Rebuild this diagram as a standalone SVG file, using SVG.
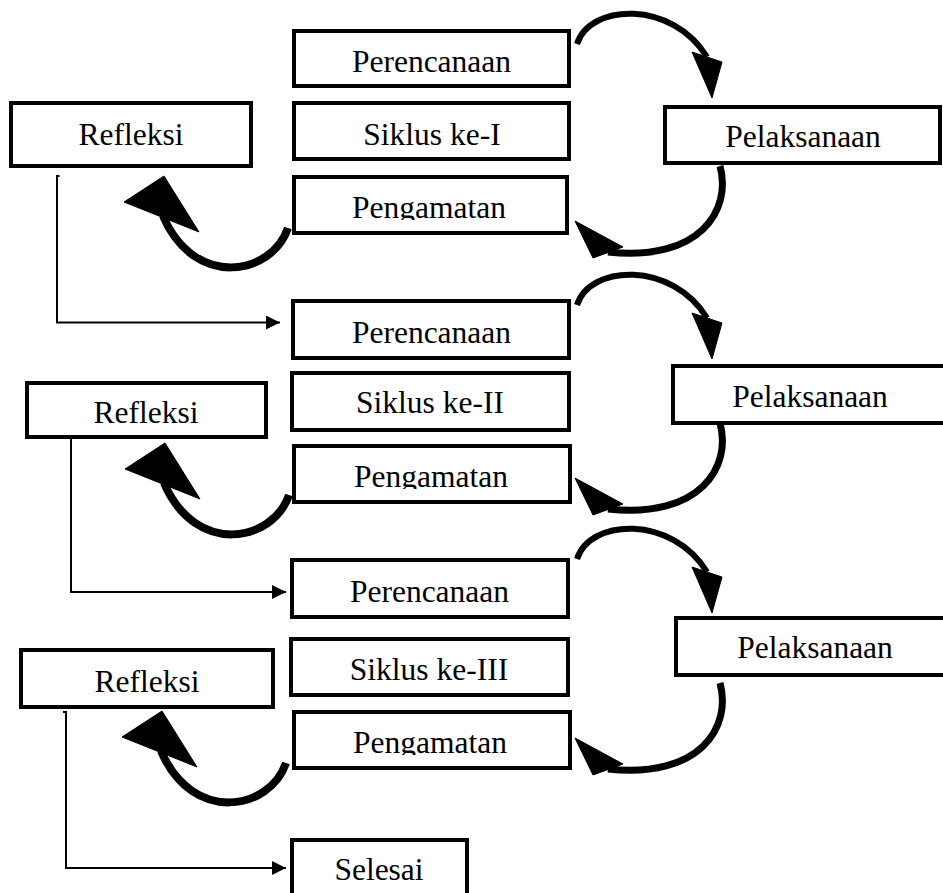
<svg xmlns="http://www.w3.org/2000/svg" width="943" height="893" viewBox="0 0 943 893">
<style>
.box{fill:#fff;stroke:#000;stroke-width:4}
.t{font-family:"Liberation Serif","Times New Roman",serif;font-size:31.5px;fill:#000;text-anchor:middle}
.line{fill:none;stroke:#000;stroke-width:2}
.arc{fill:none;stroke:#000;stroke-linecap:butt}
.head{fill:#000;stroke:#000;stroke-width:1;stroke-linejoin:round}
</style>
<defs>
<marker id="ah" markerUnits="userSpaceOnUse" markerWidth="14" markerHeight="14" refX="14" refY="7" orient="auto">
<path d="M0,0 L14,7 L0,14 z" fill="#000"/>
</marker>
<clipPath id="c1" clipPathUnits="userSpaceOnUse"><rect x="290" y="170" width="290" height="50"/></clipPath>
<clipPath id="c2" clipPathUnits="userSpaceOnUse"><rect x="290" y="440" width="290" height="49"/></clipPath>
<clipPath id="c3" clipPathUnits="userSpaceOnUse"><rect x="290" y="705" width="290" height="50"/></clipPath>
<g id="topArc">
<path class="arc" stroke-width="6" d="M577,44 C590,3 672,0 707,57"/>
<polygon class="head" points="692,52 722,62 712,98"/>
</g>
<g id="rightArc">
<path class="arc" stroke-width="7" d="M720,166 C732,210 700,262 608,252"/>
<polygon class="head" points="575,221 593,258 623,247"/>
</g>
<g id="leftArc">
<path class="arc" stroke-width="8" d="M288,228 C272,275 195,290 163,216"/>
<polygon class="head" points="124,202 164,176 199,232"/>
</g>
</defs>

<g id="connectors">
<path class="line" d="M59.5,176 H57 V322.5 H280" marker-end="url(#ah)"/>
<path class="line" d="M71,439 V592 H286" marker-end="url(#ah)"/>
<path class="line" d="M63,712 H66 V868 H286" marker-end="url(#ah)"/>
<use href="#topArc"/>
<use href="#rightArc"/>
<use href="#leftArc"/>
<use href="#topArc" transform="translate(0,261)"/>
<use href="#rightArc" transform="translate(0,257)"/>
<use href="#leftArc" transform="translate(1,267)"/>
<use href="#topArc" transform="translate(0,515)"/>
<use href="#rightArc" transform="translate(0,517)"/>
<use href="#leftArc" transform="translate(-2,535)"/>
</g>

<g id="perencanaan1"><rect class="box" x="294" y="31" width="275" height="55"/><text class="t" x="431.5" y="72">Perencanaan</text></g>
<g id="siklus1"><rect class="box" x="294" y="103" width="275" height="56"/><text class="t" x="432" y="145">Siklus ke-I</text></g>
<g id="pengamatan1"><rect class="box" x="294" y="177" width="273" height="56"/><text class="t" x="429" y="218" clip-path="url(#c1)">Pengamatan</text></g>
<g id="refleksi1"><rect class="box" x="11" y="103" width="240" height="63"/><text class="t" x="131" y="145">Refleksi</text></g>
<g id="pelaksanaan1"><rect class="box" x="665" y="107" width="275" height="56"/><text class="t" x="803" y="147">Pelaksanaan</text></g>

<g id="perencanaan2"><rect class="box" x="293" y="301" width="276" height="57"/><text class="t" x="431.5" y="343">Perencanaan</text></g>
<g id="siklus2"><rect class="box" x="292" y="373" width="277" height="57"/><text class="t" x="430" y="413">Siklus ke-II</text></g>
<g id="pengamatan2"><rect class="box" x="294" y="446" width="276" height="56"/><text class="t" x="431" y="487" clip-path="url(#c2)">Pengamatan</text></g>
<g id="refleksi2"><rect class="box" x="27" y="383" width="239" height="54"/><text class="t" x="146" y="423">Refleksi</text></g>
<g id="pelaksanaan2"><rect class="box" x="673" y="366" width="280" height="57"/><text class="t" x="810" y="407">Pelaksanaan</text></g>

<g id="perencanaan3"><rect class="box" x="292" y="560" width="276" height="57"/><text class="t" x="429.5" y="602">Perencanaan</text></g>
<g id="siklus3"><rect class="box" x="291" y="639" width="277" height="56"/><text class="t" x="429" y="680">Siklus ke-III</text></g>
<g id="pengamatan3"><rect class="box" x="294" y="712" width="276" height="56"/><text class="t" x="430" y="753" clip-path="url(#c3)">Pengamatan</text></g>
<g id="refleksi3"><rect class="box" x="21" y="650" width="252" height="57"/><text class="t" x="147" y="692">Refleksi</text></g>
<g id="pelaksanaan3"><rect class="box" x="676" y="618" width="280" height="57"/><text class="t" x="815" y="658">Pelaksanaan</text></g>

<g id="selesai"><rect class="box" x="292" y="840" width="175" height="60"/><text class="t" x="379" y="880">Selesai</text></g>
</svg>
